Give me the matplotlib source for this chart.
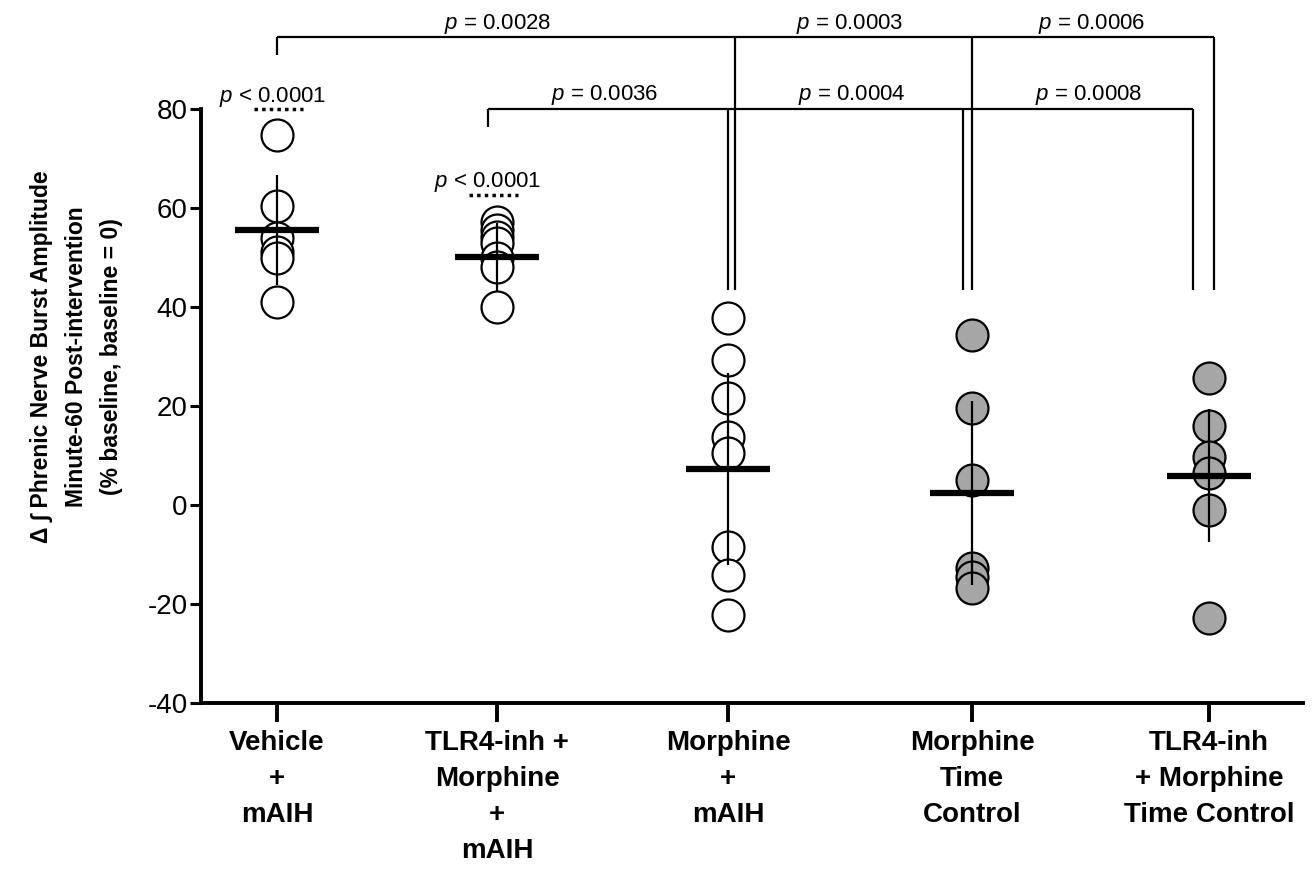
import numpy as np
import matplotlib
matplotlib.use('Agg')
import matplotlib.pyplot as plt
from matplotlib import font_manager

plt.rcParams['font.family'] = ['Liberation Sans', 'DejaVu Sans']
plt.rcParams['mathtext.fontset'] = 'custom'
plt.rcParams['mathtext.it'] = 'Liberation Sans:italic'
plt.rcParams['mathtext.rm'] = 'Liberation Sans'
plt.rcParams['axes.unicode_minus'] = False

# group labels and per-animal values
groups = ['Vehicle\n+\nmAIH', 'TLR4-inh +\nMorphine\n+\nmAIH', 'Morphine\n+\nmAIH',
          'Morphine\nTime\nControl', 'TLR4-inh\n+ Morphine\nTime Control']
vehicle = [74.7, 60.5, 53.9, 51.2, 49.9, 41.1]
tlr4_morphine = [57.2, 55.6, 54.2, 52.9, 49.9, 48.2, 40.1]
morphine = [37.8, 29.3, 21.6, 13.8, 10.5, -8.4, -14.1, -22.1]
morphine_tc = [34.4, 19.6, 5.1, -12.7, -14.4, -16.8]
tlr4_morphine_tc = [25.6, 16.0, 9.8, 6.6, -0.9, -22.8]
group_means = [55.6, 50.1, 7.3, 2.4, 6.0]
group_sds = [11.1, 6.9, 19.3, 18.6, 13.5]
time_control = [False, False, False, True, True]

# pairwise comparisons
p_top = ['0.0028', '0.0003', '0.0006']
p_low = ['0.0036', '0.0004', '0.0008']
p_within = ['< 0.0001', '< 0.0001']

all_values = [vehicle, tlr4_morphine, morphine, morphine_tc, tlr4_morphine_tc]

# layout (x positions of groups, slightly uneven as in the original)
group_x = [0.0, 0.944, 1.936, 2.983, 4.0]

installed = {f.name for f in font_manager.fontManager.ttflist}
if 'Liberation Sans Narrow' in installed:
    ylab_font, ylab_size = ['Liberation Sans Narrow', 'DejaVu Sans'], 20
else:
    ylab_font, ylab_size = ['Liberation Sans', 'DejaVu Sans'], 16.5

fig = plt.figure(figsize=(13.15, 8.75), dpi=100)
ax = fig.add_axes([0.1529, 0.1962, 0.8381, 0.6792])

for i, vals in enumerate(all_values):
    x = group_x[i]
    face = '#a6a6a6' if time_control[i] else 'white'
    ax.plot([x] * len(vals), vals, 'o', ms=23, mfc=face, mec='black', mew=1.6, zorder=1)
    ax.errorbar(x, group_means[i], yerr=group_sds[i], fmt='none', ecolor='black',
                elinewidth=1.6, capsize=0, zorder=2)
    ax.plot([x - 0.18, x + 0.18], [group_means[i]] * 2, color='black', lw=4.5,
            solid_capstyle='butt', zorder=4)

ax.set_xlim(-0.326, 4.403)
ax.set_ylim(-40, 80)
ax.set_yticks(np.arange(-40, 81, 20))
ax.set_xticks(group_x)
ax.set_xticklabels(groups, fontsize=20, fontweight='bold', linespacing=1.5)
ax.tick_params(axis='y', labelsize=20, length=8, width=2.2, pad=1.5)
ax.tick_params(axis='x', length=14, width=2.8, pad=5)
for s in ['top', 'right']:
    ax.spines[s].set_visible(False)
for s in ['left', 'bottom']:
    ax.spines[s].set_linewidth(2.8)

fig.text(0.058, 0.592, 'Δ ∫ Phrenic Nerve Burst Amplitude\nMinute-60 Post-intervention\n(% baseline, baseline = 0)',
         rotation=90, ha='center', va='center', multialignment='center',
         family=ylab_font, fontsize=ylab_size, fontweight='bold', linespacing=1.65)

# comparison brackets
lk = dict(color='black', lw=1.6, clip_on=False, solid_capstyle='butt')
top_y, low_y, drop_y = 94.6, 80.1, 43.5
ax.plot([group_x[0], group_x[0]], [90.9, top_y], **lk)
ax.plot([group_x[0], group_x[4] + 0.02], [top_y, top_y], **lk)
for xx in [group_x[2] + 0.03, group_x[3], group_x[4] + 0.02]:
    ax.plot([xx, xx], [drop_y, top_y], **lk)
ax.plot([group_x[1] - 0.04, group_x[1] - 0.04], [76.4, low_y], **lk)
ax.plot([group_x[1] - 0.04, group_x[4] - 0.07], [low_y, low_y], **lk)
for xx in [group_x[2], group_x[3] - 0.04, group_x[4] - 0.07]:
    ax.plot([xx, xx], [drop_y, low_y], **lk)

for xc, p in zip([0.948, 2.459, 3.494], p_top):
    ax.text(xc, 96.1, '$p$ = ' + p, ha='center', va='baseline', fontsize=16, clip_on=False)
for xc, p in zip([1.408, 2.468, 3.481], p_low):
    ax.text(xc, 81.8, '$p$ = ' + p, ha='center', va='baseline', fontsize=16, clip_on=False)

# within-group p values with dotted underline
for xc, ty, dy, p in zip([-0.02, 0.902], [81.4, 64.3], [80.1, 62.6], p_within):
    ax.text(xc, ty, '$p$ ' + p, ha='center', va='baseline', fontsize=16, clip_on=False)
    ax.plot([xc - 0.08, xc + 0.13], [dy, dy], color='black', lw=2.5,
            linestyle=(0, (1, 1.2)), clip_on=False)

fig.savefig('out.png', dpi=100)
